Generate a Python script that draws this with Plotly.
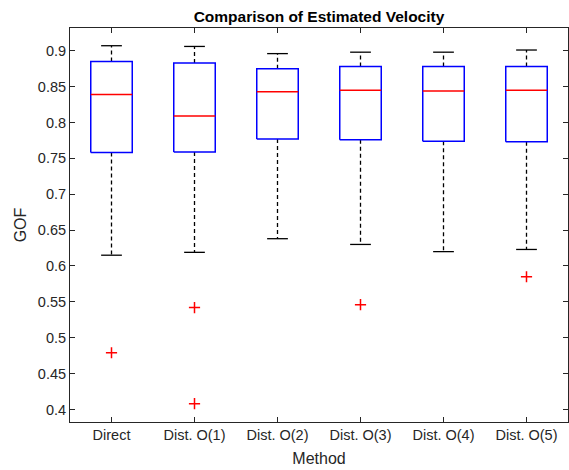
import plotly.graph_objects as go

# ---- data ----
categories = ["Direct", "Dist. O(1)", "Dist. O(2)", "Dist. O(3)", "Dist. O(4)", "Dist. O(5)"]
upper_whisker = [0.907, 0.906, 0.896, 0.898, 0.898, 0.901]
q3 = [0.885, 0.883, 0.875, 0.878, 0.878, 0.878]
median = [0.839, 0.809, 0.843, 0.845, 0.844, 0.845]
q1 = [0.758, 0.759, 0.777, 0.776, 0.774, 0.773]
lower_whisker = [0.615, 0.619, 0.638, 0.630, 0.620, 0.623]
outliers = [[0.479], [0.542, 0.408], [], [0.546], [], [0.585]]
y_ticks = [0.4, 0.45, 0.5, 0.55, 0.6, 0.65, 0.7, 0.75, 0.8, 0.85, 0.9]
y_tick_labels = ["0.4", "0.45", "0.5", "0.55", "0.6", "0.65", "0.7", "0.75", "0.8", "0.85", "0.9"]

# ---- style ----
BOX_HW = 0.25
CAP_HW = 0.125
AX_COL = "#262626"
FONT = "Liberation Sans, Arial, Helvetica, sans-serif"

pos = list(range(1, len(categories) + 1))

wx, wy = [], []
cx, cy = [], []
bx, by = [], []
mx, my = [], []
ox, oy = [], []
for i, p in enumerate(pos):
    wx += [p, p, None, p, p, None]
    wy += [q3[i], upper_whisker[i], None, q1[i], lower_whisker[i], None]
    cx += [p - CAP_HW, p + CAP_HW, None, p - CAP_HW, p + CAP_HW, None]
    cy += [upper_whisker[i], upper_whisker[i], None, lower_whisker[i], lower_whisker[i], None]
    bx += [p - BOX_HW, p + BOX_HW, p + BOX_HW, p - BOX_HW, p - BOX_HW, None]
    by += [q1[i], q1[i], q3[i], q3[i], q1[i], None]
    mx += [p - BOX_HW, p + BOX_HW, None]
    my += [median[i], median[i], None]
    for v in outliers[i]:
        ox.append(p)
        oy.append(v)

fig = go.Figure()
fig.add_trace(go.Scatter(x=wx, y=wy, mode="lines",
                         line=dict(color="black", width=1.3, dash="4px,3px"),
                         hoverinfo="skip"))
fig.add_trace(go.Scatter(x=cx, y=cy, mode="lines",
                         line=dict(color="black", width=1.3), hoverinfo="skip"))
fig.add_trace(go.Scatter(x=bx, y=by, mode="lines",
                         line=dict(color="#0000FF", width=1.5), hoverinfo="skip"))
fig.add_trace(go.Scatter(x=mx, y=my, mode="lines",
                         line=dict(color="#FF0000", width=1.5), hoverinfo="skip"))
fig.add_trace(go.Scatter(x=ox, y=oy, mode="markers",
                         marker=dict(symbol="cross-thin", size=8,
                                     line=dict(color="#FF0000", width=1.5))))

fig.update_layout(
    width=569, height=470,
    margin=dict(l=70, r=1, t=28, b=48),
    paper_bgcolor="white", plot_bgcolor="white",
    showlegend=False,
    font=dict(family=FONT, color=AX_COL, size=14),
    title=dict(text="<b>Comparison of Estimated Velocity</b>",
               font=dict(family=FONT, size=15.5, color="black"),
               x=0.5, xref="paper", xanchor="center",
               y=1 - 17 / 470, yref="container", yanchor="middle"),
    xaxis=dict(range=[0.5, 6.5], tickvals=pos, ticktext=categories,
               ticks="inside", ticklen=5, tickcolor=AX_COL,
               showline=True, linecolor=AX_COL, linewidth=1, mirror="ticks",
               showgrid=False, zeroline=False,
               tickfont=dict(size=14.5, color=AX_COL),
               title=dict(text="Method", font=dict(size=16, color=AX_COL), standoff=10)),
    yaxis=dict(range=[0.3825, 0.9317], tickvals=y_ticks, ticktext=y_tick_labels,
               ticks="inside", ticklen=5, tickcolor=AX_COL,
               showline=True, linecolor=AX_COL, linewidth=1, mirror="ticks",
               showgrid=False, zeroline=False,
               tickfont=dict(size=14.5, color=AX_COL),
               title=dict(text="GOF", font=dict(size=16, color=AX_COL), standoff=7)),
)

fig.write_html("out.html")
